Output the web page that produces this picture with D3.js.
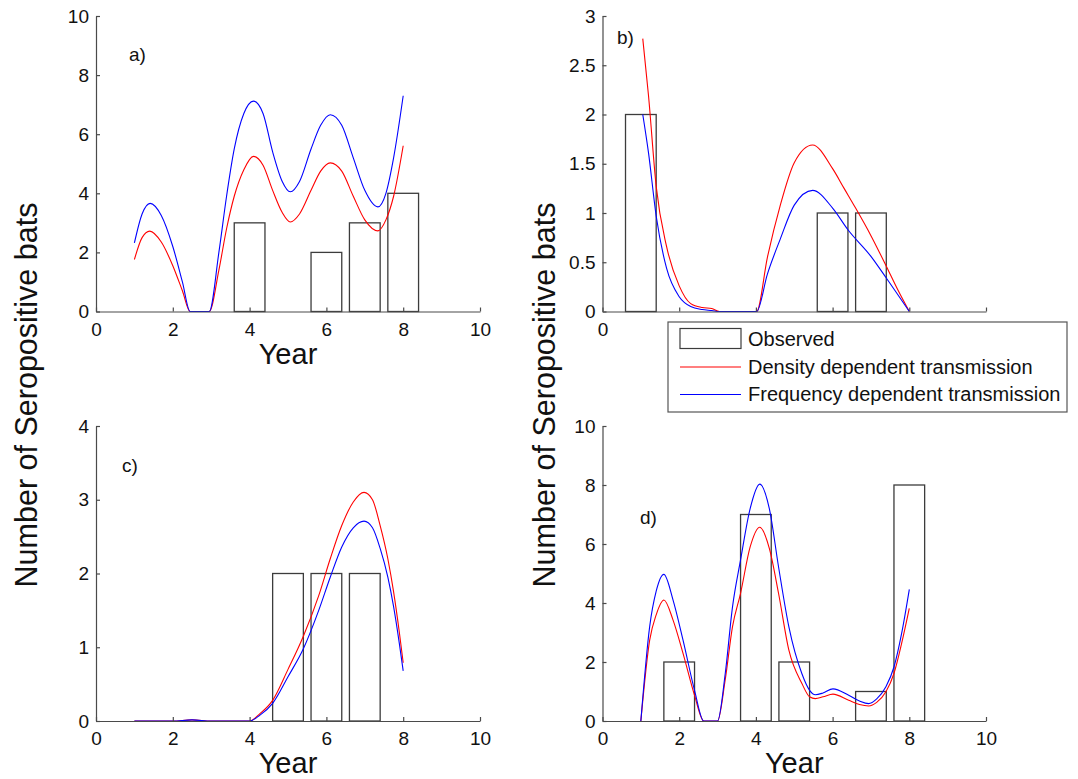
<!DOCTYPE html>
<html>
<head>
<meta charset="utf-8">
<script src="https://cdn.jsdelivr.net/npm/d3@7.9.0/dist/d3.min.js"></script>
<style>
  body { margin: 0; background: #fff; }
  svg text { font-family: "Liberation Sans", Arial, sans-serif; }
</style>
</head>
<body>
<svg id="chart" width="1078" height="779"></svg>
<script>
// observed bars (year, count) for each panel
const barYearsA = [4, 6, 7, 8];
const barCountsA = [3, 2, 3, 4];
const barYearsB = [1, 6, 7];
const barCountsB = [2, 1, 1];
const barYearsC = [5, 6, 7];
const barCountsC = [2, 2, 2];
const barYearsD = [2, 4, 5, 7, 8];
const barCountsD = [2, 7, 2, 1, 8];

// model curves [year, seropositive]  (density = red, frequency = blue)
const densityA = [[1.0,1.76],[1.2,2.5],[1.4,2.72],[1.7,2.35],[2.0,1.55],[2.25,0.7],[2.45,0],[2.95,0],[3.2,1.4],[3.4,2.8],[3.6,3.9],[3.85,4.8],[4.1,5.25],[4.35,4.95],[4.6,4.1],[4.85,3.35],[5.06,3.03],[5.3,3.3],[5.6,4.1],[5.85,4.75],[6.1,5.03],[6.4,4.75],[6.7,3.9],[7.0,3.1],[7.34,2.73],[7.55,3.1],[7.75,3.9],[8.0,5.61]];
const frequencyA = [[1.0,2.32],[1.2,3.3],[1.41,3.66],[1.7,3.25],[2.0,2.2],[2.25,1.0],[2.45,0],[2.95,0],[3.2,2.0],[3.4,3.9],[3.6,5.5],[3.85,6.7],[4.1,7.12],[4.35,6.7],[4.6,5.4],[4.85,4.4],[5.06,4.05],[5.3,4.4],[5.6,5.5],[5.85,6.3],[6.1,6.66],[6.4,6.3],[6.7,5.2],[7.0,4.1],[7.34,3.54],[7.55,4.0],[7.75,5.2],[8.0,7.3]];

const densityB = [[1.05,2.77],[1.2,2.19],[1.4,1.27],[1.67,0.66],[2.0,0.26],[2.3,0.08],[2.6,0.04],[2.85,0.03],[3.05,0],[4.02,0],[4.3,0.55],[4.63,1.07],[5.0,1.51],[5.48,1.69],[6.0,1.45],[6.3,1.25],[6.6,1.05],[7.0,0.77],[7.4,0.46],[7.7,0.22],[8.0,0]];
const frequencyB = [[1.05,2.0],[1.2,1.61],[1.4,0.97],[1.67,0.44],[2.0,0.15],[2.3,0.05],[2.6,0.02],[2.85,0.01],[3.05,0],[4.02,0],[4.3,0.38],[4.63,0.73],[5.0,1.08],[5.48,1.23],[6.0,1.05],[6.4,0.83],[7.0,0.56],[7.4,0.34],[8.0,0]];

const densityC = [[1,0],[2,0],[2.5,0.015],[3,0],[4,0],[4.27,0.1],[4.6,0.28],[5.0,0.7],[5.4,1.15],[5.8,1.7],[6.1,2.2],[6.4,2.65],[6.7,2.97],[6.98,3.1],[7.2,3.0],[7.4,2.65],[7.6,2.2],[7.75,1.75],[7.9,1.2],[8.0,0.79]];
const frequencyC = [[1,0],[2,0],[2.5,0.015],[3,0],[4,0],[4.27,0.08],[4.6,0.24],[5.0,0.6],[5.4,0.98],[5.8,1.5],[6.1,1.95],[6.4,2.36],[6.7,2.62],[6.98,2.71],[7.2,2.62],[7.4,2.34],[7.6,1.95],[7.75,1.55],[7.9,1.05],[8.0,0.68]];

const densityD = [[1.0,0],[1.23,2.74],[1.4,3.6],[1.6,4.1],[1.84,3.42],[2.1,2.29],[2.4,0.87],[2.64,0],[3.0,0],[3.2,1.4],[3.39,3.2],[3.6,4.33],[3.85,5.9],[4.1,6.57],[4.35,5.85],[4.59,4.33],[4.86,2.4],[5.2,1.27],[5.4,0.82],[5.55,0.76],[5.75,0.82],[6.01,0.91],[6.42,0.7],[6.7,0.56],[6.94,0.51],[7.15,0.63],[7.39,0.99],[7.6,1.61],[7.8,2.63],[8.0,3.82]];
const frequencyD = [[1.0,0],[1.23,3.2],[1.4,4.4],[1.6,4.97],[1.84,4.1],[2.1,2.74],[2.4,1.04],[2.64,0],[3.0,0],[3.2,1.6],[3.39,3.87],[3.6,5.46],[3.85,7.2],[4.1,8.03],[4.35,7.2],[4.59,5.23],[4.86,3.19],[5.2,1.6],[5.4,1.04],[5.55,0.89],[5.75,0.95],[6.01,1.09],[6.42,0.87],[6.7,0.68],[6.94,0.59],[7.15,0.75],[7.39,1.16],[7.6,1.83],[7.8,2.97],[8.0,4.46]];

// tick values
const xTicks = [0, 2, 4, 6, 8, 10];
const yTicksA = [0, 2, 4, 6, 8, 10];
const yTicksB = [0, 0.5, 1, 1.5, 2, 2.5, 3];
const yTicksC = [0, 1, 2, 3, 4];
const yTicksD = [0, 2, 4, 6, 8, 10];

const legendLabels = ['Observed', 'Density dependent transmission', 'Frequency dependent transmission'];

const RED = '#ff0000', BLUE = '#0000ff', AXIS = '#4a4a4a';
const FONT = '"Liberation Sans", Arial, sans-serif';

// b's x tick labels past 0 sit under the legend, so only "0" shows
const panels = [
  { tag: 'a)', box: [96, 480, 16, 311.5], ymax: 10, yTicks: yTicksA, years: barYearsA, counts: barCountsA, red: densityA, blue: frequencyA, tagPos: [129, 61], xlabel: true, xLabelMax: 10 },
  { tag: 'b)', box: [602.5, 986, 16, 311.5], ymax: 3, yTicks: yTicksB, years: barYearsB, counts: barCountsB, red: densityB, blue: frequencyB, tagPos: [617, 44], xlabel: false, xLabelMax: 0 },
  { tag: 'c)', box: [96, 480, 426, 721], ymax: 4, yTicks: yTicksC, years: barYearsC, counts: barCountsC, red: densityC, blue: frequencyC, tagPos: [122, 472], xlabel: true, xLabelMax: 10 },
  { tag: 'd)', box: [602.5, 986, 426, 721], ymax: 10, yTicks: yTicksD, years: barYearsD, counts: barCountsD, red: densityD, blue: frequencyD, tagPos: [640, 524], xlabel: true, xLabelMax: 10 },
];

const svg = d3.select('#chart');

panels.forEach((p) => {
  const [left, right, top, bottom] = p.box;
  const x = d3.scaleLinear().domain([0, 10]).range([left, right]);
  const y = d3.scaleLinear().domain([0, p.ymax]).range([bottom, top]);
  const g = svg.append('g');

  // bars
  const bars = p.years.map((yr, i) => ({ year: yr, count: p.counts[i] }));
  g.selectAll('rect.bar')
    .data(bars)
    .enter()
    .append('rect')
    .attr('class', 'bar')
    .attr('x', (d) => x(d.year - 0.4))
    .attr('width', (d) => x(d.year + 0.4) - x(d.year - 0.4))
    .attr('y', (d) => y(d.count))
    .attr('height', (d) => y(0) - y(d.count))
    .attr('fill', 'white')
    .attr('stroke', '#3c3c3c')
    .attr('stroke-width', 1.3);

  // model curves
  const line = d3.line()
    .x((d) => x(d[0]))
    .y((d) => y(d[1]))
    .curve(d3.curveMonotoneX);

  g.append('path').attr('d', line(p.red)).attr('fill', 'none').attr('stroke', RED).attr('stroke-width', 1.1);
  g.append('path').attr('d', line(p.blue)).attr('fill', 'none').attr('stroke', BLUE).attr('stroke-width', 1.1);

  // axes
  const xAxis = g.append('g')
    .attr('transform', `translate(0,${bottom})`)
    .call(d3.axisBottom(x).tickValues(xTicks).tickSizeInner(-4).tickSizeOuter(0).tickPadding(11)
      .tickFormat((d) => (d <= p.xLabelMax ? String(d) : '')));
  const yAxis = g.append('g')
    .attr('transform', `translate(${left},0)`)
    .call(d3.axisLeft(y).tickValues(p.yTicks).tickSizeInner(-4).tickSizeOuter(0).tickPadding(7).tickFormat((d) => String(d)));

  [xAxis, yAxis].forEach((ax) => {
    ax.attr('font-size', 19).attr('font-family', FONT);
    ax.selectAll('path, line').attr('stroke', AXIS).attr('stroke-width', 1.2);
    ax.selectAll('text').attr('fill', '#111');
  });

  // panel tag
  g.append('text')
    .attr('x', p.tagPos[0])
    .attr('y', p.tagPos[1])
    .attr('font-size', 19)
    .attr('fill', '#111')
    .text(p.tag);

  if (p.xlabel) {
    g.append('text')
      .attr('x', (left + right) / 2)
      .attr('y', bottom + 52)
      .attr('text-anchor', 'middle')
      .attr('font-size', 29)
      .attr('fill', '#111')
      .text('Year');
  }
});

// shared y labels
[[37, 395], [555, 395]].forEach(([lx, ly]) => {
  svg.append('text')
    .attr('transform', `translate(${lx},${ly}) rotate(-90)`)
    .attr('text-anchor', 'middle')
    .attr('font-size', 30.5)
    .attr('fill', '#111')
    .text('Number of Seropositive bats');
});

// legend
const legend = svg.append('g').attr('transform', 'translate(668,322)');
legend.append('rect')
  .attr('width', 399)
  .attr('height', 90)
  .attr('fill', 'white')
  .attr('stroke', '#555')
  .attr('stroke-width', 1.2);

legend.append('rect')
  .attr('x', 12).attr('y', 6.5).attr('width', 61).attr('height', 20)
  .attr('fill', 'white').attr('stroke', '#3c3c3c').attr('stroke-width', 1.2);
legend.append('line').attr('x1', 12).attr('x2', 73).attr('y1', 45).attr('y2', 45).attr('stroke', RED).attr('stroke-width', 1.1);
legend.append('line').attr('x1', 12).attr('x2', 73).attr('y1', 72.5).attr('y2', 72.5).attr('stroke', BLUE).attr('stroke-width', 1.1);

legend.selectAll('text.lbl')
  .data(legendLabels)
  .enter()
  .append('text')
  .attr('class', 'lbl')
  .attr('x', 80)
  .attr('y', (d, i) => 17 + i * 27.5)
  .attr('dy', '0.35em')
  .attr('font-size', 20)
  .attr('fill', '#111')
  .text((d) => d);
</script>
</body>
</html>
